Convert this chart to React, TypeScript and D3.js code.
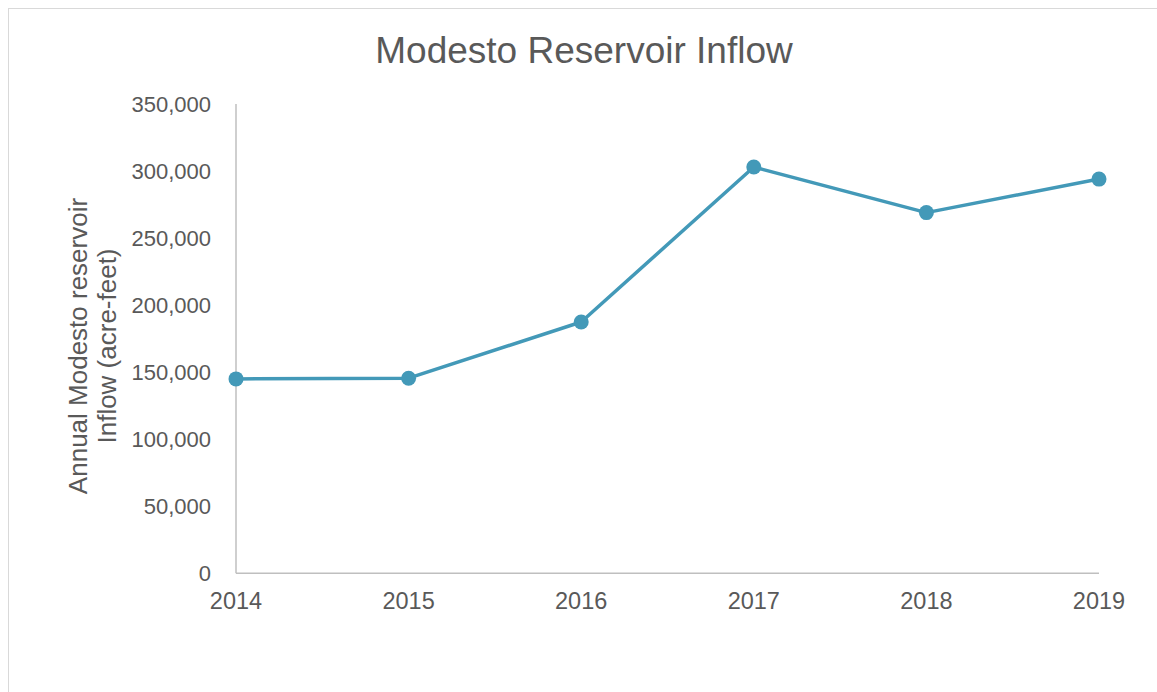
import React from "react";
import * as d3 from "d3";

const years = ["2014", "2015", "2016", "2017", "2018", "2019"];
const inflow = [145000, 145500, 187400, 303000, 269000, 294000];
const yTicks = [0, 50000, 100000, 150000, 200000, 250000, 300000, 350000];

const W = 1157;
const H = 692;
const left = 236;
const right = 1099;
const top = 104;
const bottom = 573.3;

export default function App() {
  const x = d3.scalePoint<string>().domain(years).range([left, right]);
  const y = d3.scaleLinear().domain([0, 350000]).range([bottom, top]);
  const fmt = d3.format(",");
  const data = years.map((yr, i) => ({ yr, v: inflow[i] }));
  const line = d3
    .line<{ yr: string; v: number }>()
    .x((d) => x(d.yr)!)
    .y((d) => y(d.v));
  const font = "Arial, 'Liberation Sans', sans-serif";
  const textColor = "#595959";
  const col = "#4399b8";
  return (
    <svg
      width={W}
      height={H}
      style={{ position: "absolute", left: 0, top: 0, display: "block" }}
    >
      <rect x={0} y={0} width={W} height={H} fill="#fff" />
      <rect
        x={8.5}
        y={8.5}
        width={W}
        height={H}
        fill="#fff"
        stroke="#d9d9d9"
        strokeWidth={1}
      />
      <text
        x={584}
        y={63}
        textAnchor="middle"
        fontFamily={font}
        fontSize={37}
        fill={textColor}
      >
        Modesto Reservoir Inflow
      </text>
      {/* axes */}
      <line x1={left} x2={left} y1={top} y2={bottom} stroke="#bfbfbf" strokeWidth={1.5} />
      <line x1={left} x2={right} y1={bottom} y2={bottom} stroke="#bfbfbf" strokeWidth={1.5} />
      {yTicks.map((t) => (
        <text
          key={t}
          x={211}
          y={y(t)}
          dy="0.36em"
          textAnchor="end"
          fontFamily={font}
          fontSize={22}
          fill={textColor}
        >
          {fmt(t)}
        </text>
      ))}
      {years.map((yr) => (
        <text
          key={yr}
          x={x(yr)}
          y={609}
          textAnchor="middle"
          fontFamily={font}
          fontSize={23.5}
          fill={textColor}
        >
          {yr}
        </text>
      ))}
      <text
        transform="translate(0,346) rotate(-90)"
        textAnchor="middle"
        fontFamily={font}
        fontSize={26}
        fill={textColor}
      >
        <tspan x={0} y={87}>Annual Modesto reservoir</tspan>
        <tspan x={0} y={116}>Inflow (acre-feet)</tspan>
      </text>
      <path d={line(data)!} fill="none" stroke={col} strokeWidth={3.5} strokeLinejoin="round" />
      {data.map((d) => (
        <circle key={d.yr} cx={x(d.yr)} cy={y(d.v)} r={7.5} fill={col} />
      ))}
    </svg>
  );
}
